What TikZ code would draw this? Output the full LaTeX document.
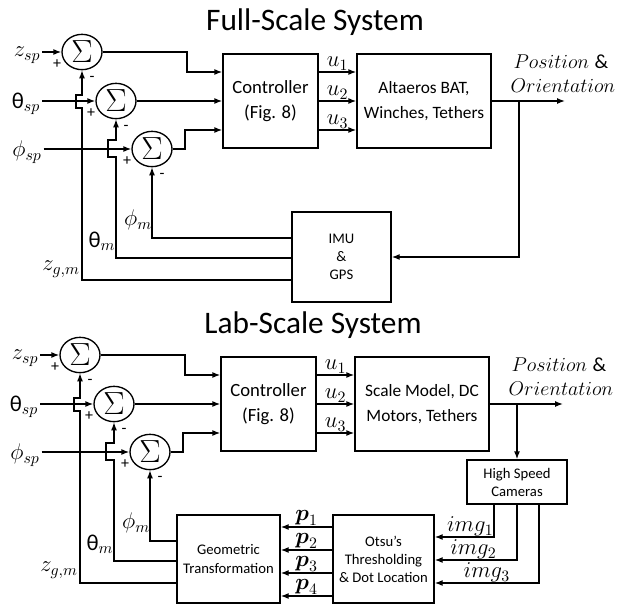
\RequirePackage{fix-cm}
\documentclass[tikz,border=0pt]{standalone}
\usepackage{amsmath}
\usepackage{fontspec}
\setmainfont{Carlito}
\usetikzlibrary{arrows.meta,shapes.geometric}

\begin{document}
\begin{tikzpicture}[x=0.75pt, y=-0.75pt, line width=1pt,
  arr/.style={-{Latex[length=6pt,width=4.5pt]}},
  blk/.style={draw, align=center, inner sep=1pt},
  sumnode/.style={draw, ellipse, minimum width=30pt, minimum height=26.5pt, inner sep=0pt, font=\fontsize{24}{24}\selectfont},
  sgn/.style={font=\fontsize{12}{12}\selectfont, inner sep=0pt},
  mlbl/.style={font=\fontsize{17}{17}\selectfont, inner sep=1pt},
  outlbl/.style={font=\fontsize{15}{15}\selectfont, inner sep=0pt},
  small/.style={font=\fontsize{11}{13.5}\selectfont},
  ttl/.style={font=\fontsize{23.5}{28}\selectfont}
]
\useasboundingbox (0,0) rectangle (618,604);

% full-scale loop
\node[ttl] (ttlF) at (315,22) {Full-Scale System};
\node[sumnode] (zs) at (82,52) {$\Sigma$};
\node[sumnode] (ts) at (116,101) {$\Sigma$};
\node[sumnode] (ps) at (152,149) {$\Sigma$};
\foreach \s in {zs,ts,ps} {
  \node[sgn] at ([shift={(-25,12)}]\s) {+};
  \node[sgn] at ([shift={(10,27)}]\s) {-};
}
\node[mlbl] (zin) at (27,55) {$z_{sp}$};
\node[mlbl] (tin) at (26,104) {θ$_{sp}$};
\node[mlbl] (pin) at (27,152) {$\phi_{sp}$};
\draw[arr] (zin.east |- zs) -- (zs);
\draw[arr] (tin.east |- ts) -- (ts);
\draw[arr] (pin.east |- ps) -- (ps);

\node[blk, minimum width=71.25pt, minimum height=70.5pt, font=\fontsize{14}{19}\selectfont] (ctrl) at (270.5,101) {Controller\\(Fig. 8)};
\node[blk, minimum width=100.5pt, minimum height=70.5pt, font=\fontsize{13}{18.5}\selectfont] (plant) at (424,101) {Altaeros BAT,\\Winches, Tethers};
\node[blk, small, minimum width=74.25pt, minimum height=67.5pt] (imu) at (341.5,257) {IMU\\\&\\GPS};

\draw[arr] (zs) -- (187,52) |- (ctrl.west |- 0,72);
\draw[arr] (ts) -- (ctrl);
\draw[arr] (ps) -- (185,149) |- (ctrl.west |- 0,130);
\foreach \y/\i in {72/1,101/2,130/3}
  \draw[arr] (ctrl.east |- 0,\y) -- (plant.west |- 0,\y) node[midway, above, mlbl] {$u_{\i}$};

\coordinate (outF) at (565,101);
\coordinate (brF) at (519,101);
\draw[arr] (plant) -- (outF);
\node[outlbl] at (561,62) {$Position\;\&$};
\node[outlbl] at (563,86) {$Orientation$};
\draw[arr] (brF) |- (imu);

\draw[arr] (imu.west |- 0,280) -- (82,280) -- (82,108) -- (76,108) -- (76,95) -- (82,95) -- (zs);
\draw[arr] (imu.west |- 0,258) -- (116,258) -- (116,157) -- (108,157) -- (108,140) -- (116,140) -- (ts);
\draw[arr] (imu.west |- 0,238) -- (152,238) -- (ps);
\node[mlbl] at (138,220) {$\phi_m$};
\node[mlbl] at (102,241) {θ$_m$};
\node[mlbl] at (61,269) {$z_{g,m}$};

% lab-scale loop
\begin{scope}[shift={(-2,303)}]
\node[ttl] (ttlL) at (315,22) {Lab-Scale System};
\node[sumnode] (zsL) at (82,52) {$\Sigma$};
\node[sumnode] (tsL) at (116,101) {$\Sigma$};
\node[sumnode] (psL) at (152,149) {$\Sigma$};
\foreach \s in {zsL,tsL,psL} {
  \node[sgn] at ([shift={(-25,12)}]\s) {+};
  \node[sgn] at ([shift={(10,27)}]\s) {-};
}
\node[mlbl] (zinL) at (27,55) {$z_{sp}$};
\node[mlbl] (tinL) at (26,104) {θ$_{sp}$};
\node[mlbl] (pinL) at (27,152) {$\phi_{sp}$};
\draw[arr] (zinL.east |- zsL) -- (zsL);
\draw[arr] (tinL.east |- tsL) -- (tsL);
\draw[arr] (pinL.east |- psL) -- (psL);

\node[blk, minimum width=71.25pt, minimum height=70.5pt, font=\fontsize{14}{19}\selectfont] (ctrlL) at (270.5,101) {Controller\\(Fig. 8)};
\node[blk, minimum width=100.5pt, minimum height=70.5pt, font=\fontsize{13}{18.5}\selectfont] (plantL) at (424,101) {Scale Model, DC\\Motors, Tethers};
\node[blk, small, minimum width=75pt, minimum height=33pt] (cams) at (519,179) {High Speed\\Cameras};
\node[blk, small, minimum width=75.75pt, minimum height=66pt] (otsu) at (385.5,256) {Otsu’s\\Thresholding\\\& Dot Location};
\node[blk, small, minimum width=77.25pt, minimum height=66pt] (geo) at (230.5,256) {Geometric\\Transformation};

\draw[arr] (zsL) -- (187,52) |- (ctrlL.west |- 0,72);
\draw[arr] (tsL) -- (ctrlL);
\draw[arr] (psL) -- (185,149) |- (ctrlL.west |- 0,130);
\foreach \y/\i in {72/1,101/2,130/3}
  \draw[arr] (ctrlL.east |- 0,\y) -- (plantL.west |- 0,\y) node[midway, above, mlbl] {$u_{\i}$};

\coordinate (outL) at (565,101);
\coordinate (brL) at (519,101);
\draw[arr] (plantL) -- (outL);
\node[outlbl] at (561,62) {$Position\;\&$};
\node[outlbl] at (563,86) {$Orientation$};
\draw[arr] (brL) -- (cams);

\draw[arr] (cams.south -| 496,0) |- (otsu.east |- 0,234) node[pos=.7, above, mlbl, inner sep=0pt] {$img_1$};
\draw[arr] (cams.south -| 519,0) |- (otsu.east |- 0,257) node[pos=.765, above, mlbl, inner sep=0pt] {$img_2$};
\draw[arr] (cams.south -| 541,0) |- (otsu.east |- 0,280) node[pos=.75, above, mlbl, inner sep=0pt] {$img_3$};
\foreach \y/\i in {224/1,247/2,270/3,293/4}
  \draw[arr] (otsu.west |- 0,\y) -- (geo.east |- 0,\y) node[midway, above, mlbl, inner sep=0.5pt] {$\boldsymbol{p}_{\i}$};

\draw[arr] (geo.west |- 0,280) -- (82,280) -- (82,108) -- (76,108) -- (76,95) -- (82,95) -- (zsL);
\draw[arr] (geo.west |- 0,258) -- (116,258) -- (116,157) -- (108,157) -- (108,140) -- (116,140) -- (tsL);
\draw[arr] (geo.west |- 0,238) -- (152,238) -- (psL);
\node[mlbl] at (138,220) {$\phi_m$};
\node[mlbl] at (102,241) {θ$_m$};
\node[mlbl] at (61,267) {$z_{g,m}$};
\end{scope}
\end{tikzpicture}
\end{document}
